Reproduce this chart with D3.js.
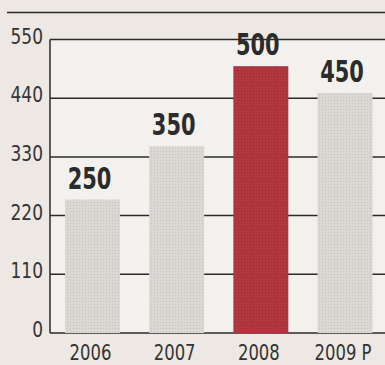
<!DOCTYPE html>
<html>
<head>
<meta charset="utf-8">
<script src="https://cdn.jsdelivr.net/npm/d3@7"></script>
<style>
  html, body { margin: 0; padding: 0; background: #ede8e3; }
  svg { display: block; }
</style>
</head>
<body>
<svg id="chart" width="385" height="365"></svg>
<script>
// data
var years = ["2006", "2007", "2008", "2009 P"];
var values = [250, 350, 500, 450];
var yTicks = [0, 110, 220, 330, 440, 550];
var highlight = "2008";

var W = 385, H = 365;
var svg = d3.select("#chart");
var font = "'DejaVu Sans Condensed', 'DejaVu Sans', sans-serif";

var y = d3.scaleLinear().domain([0, 550]).range([333, 39.5]);
var x = d3.scaleBand().domain(years)
    .range([50, 387.5])
    .paddingInner(0.347)
    .paddingOuter(0.178);

// narrow the text horizontally, the print uses a condensed face
function squeeze(px, py, sx) {
    return "translate(" + px + "," + py + ") scale(" + sx + ",1)";
}

// halftone dot texture for the bars
var defs = svg.append("defs");
function dots(id, base, dot) {
    var p = defs.append("pattern").attr("id", id)
        .attr("width", 3).attr("height", 3)
        .attr("patternUnits", "userSpaceOnUse");
    p.append("rect").attr("width", 3).attr("height", 3).attr("fill", base);
    p.append("circle").attr("cx", 1.5).attr("cy", 1.5).attr("r", 0.7).attr("fill", dot);
}
dots("greyDots", "#dcd8d3", "#c8c3bd");
dots("redDots", "#b0383e", "#9a2f35");

// top rule
svg.append("line")
    .attr("x1", 7).attr("x2", W).attr("y1", 12.5).attr("y2", 12.5)
    .attr("stroke", "#2a2a2a").attr("stroke-width", 1.5);

// plot area, slightly lighter paper
svg.append("rect")
    .attr("x", 50).attr("y", y(550)).attr("width", W - 50).attr("height", y(0) - y(550))
    .attr("fill", "#f3f1ee");

// grid lines
svg.append("g").selectAll("line").data(yTicks).enter().append("line")
    .attr("x1", 50).attr("x2", W)
    .attr("y1", function(d) { return y(d); })
    .attr("y2", function(d) { return y(d); })
    .attr("stroke", "#2a2a2a").attr("stroke-width", 1.5);

// y axis line
svg.append("line")
    .attr("x1", 50).attr("x2", 50).attr("y1", y(550)).attr("y2", y(0))
    .attr("stroke", "#2a2a2a").attr("stroke-width", 1.5);

// y tick labels
svg.append("g").selectAll("text").data(yTicks).enter().append("text")
    .attr("transform", function(d) { return squeeze(43, y(d) + 4, 0.86); })
    .attr("text-anchor", "end")
    .attr("font-family", font).attr("font-size", 22)
    .attr("fill", "#333")
    .text(function(d) { return d; });

// bars
svg.append("g").selectAll("rect").data(values).enter().append("rect")
    .attr("x", function(d, i) { return x(years[i]); })
    .attr("width", x.bandwidth())
    .attr("y", function(d) { return y(d); })
    .attr("height", function(d) { return y(0) - y(d); })
    .attr("fill", function(d, i) { return years[i] == highlight ? "url(#redDots)" : "url(#greyDots)"; });

// value labels
svg.append("g").selectAll("text").data(values).enter().append("text")
    .attr("transform", function(d, i) {
        return squeeze(x(years[i]) + x.bandwidth() / 2 - 3, y(d) - 11, 0.75);
    })
    .attr("text-anchor", "middle")
    .attr("font-family", font).attr("font-size", 31).attr("font-weight", "bold")
    .attr("fill", "#2b2b2b")
    .text(function(d) { return d; });

// x labels
svg.append("g").selectAll("text").data(years).enter().append("text")
    .attr("transform", function(d) { return squeeze(x(d) + x.bandwidth() / 2 - 2, 360, 0.87); })
    .attr("text-anchor", "middle")
    .attr("font-family", font).attr("font-size", 21)
    .attr("fill", "#333")
    .text(function(d) { return d; });
</script>
</body>
</html>
